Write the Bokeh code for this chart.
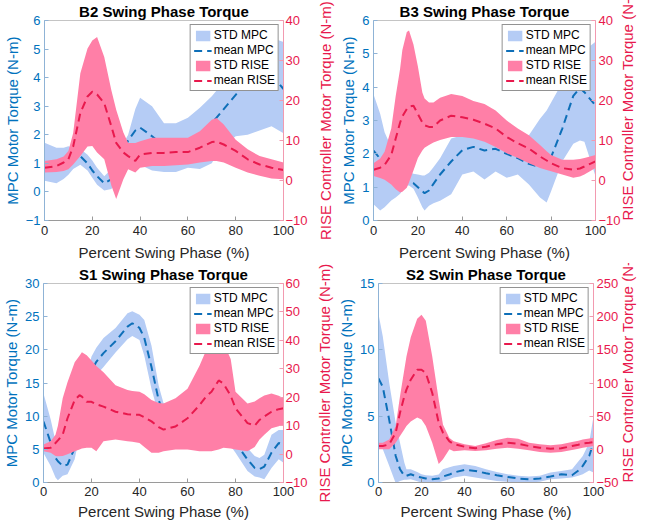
import math
from bokeh.plotting import figure
from bokeh.models import Range1d, LinearAxis, Legend, LegendItem, FixedTicker, Title
from bokeh.layouts import column, row
from bokeh.embed import file_html
from bokeh.resources import INLINE

# ---------------- data ----------------
b2_x = [0, 5, 8, 10, 12, 15, 18, 20, 22, 25, 28, 30, 33, 35, 38, 40, 45, 50, 55, 60, 65, 70, 72, 75, 80, 85, 90, 95, 100]
b2_mpc_mean = [1.05, 1.0, 1.1, 1.2, 1.3, 1.25, 1.0, 0.75, 0.55, 0.3, 0.45, 0.8, 1.45, 1.8, 2.15, 2.25, 1.95, 1.6, 1.55, 1.7, 1.95, 2.4, 2.6, 2.9, 3.4, 3.8, 4.2, 4.1, 3.6]
b2_mpc_lo = [0.39, 0.3, 0.45, 0.6, 0.8, 0.95, 0.75, 0.5, 0.25, 0.05, 0.1, 0.4, 1.2, 1.5, 1.2, 0.95, 0.75, 0.7, 0.7, 0.85, 0.8, 1.0, 1.3, 1.6, 1.95, 2.0, 2.15, 2.3, 2.05]
b2_mpc_hi = [1.72, 1.55, 1.55, 1.6, 1.55, 1.5, 1.3, 1.1, 0.85, 0.55, 0.8, 1.2, 1.7, 2.0, 2.9, 3.3, 3.0, 2.4, 2.4, 2.6, 2.95, 3.35, 3.55, 3.8, 4.45, 4.95, 5.3, 5.4, 5.25]
b2_rise_mean = [3.2, 3.6, 4.5, 5.3, 8.5, 16.9, 21.0, 22.2, 21.5, 19.3, 13.5, 9.4, 7.0, 6.1, 4.9, 6.5, 6.9, 6.9, 7.1, 7.1, 8.2, 9.6, 9.7, 9.0, 7.4, 5.3, 4.0, 3.2, 2.6]
b2_rise_lo = [2.0, 2.1, 2.4, 2.8, 4.0, 6.1, 8.5, 8.6, 7.0, 5.3, -1.3, -4.6, 0.3, 2.8, 2.0, 3.2, 3.6, 3.6, 3.8, 4.0, 4.5, 4.9, 4.9, 4.5, 3.2, 2.0, 1.2, 0.5, 0.3]
b2_rise_hi = [4.9, 5.3, 6.0, 7.4, 11.9, 26.8, 33.0, 35.0, 35.9, 30.9, 22.5, 17.7, 12.0, 9.4, 9.4, 9.8, 10.7, 10.7, 10.7, 10.7, 12.3, 15.2, 15.6, 14.0, 10.2, 7.8, 6.1, 5.3, 4.5]

b3_x = [0, 3, 5, 8, 10, 12, 13, 15, 16, 18, 20, 22, 23, 25, 27, 30, 35, 40, 45, 50, 55, 60, 65, 70, 75, 78, 80, 85, 90, 93, 95, 100]
b3_mpc_mean = [2.1, 1.85, 1.7, 1.5, 1.4, 1.35, 1.3, 1.22, 1.18, 1.12, 1.0, 0.88, 0.82, 0.9, 1.1, 1.38, 1.77, 2.11, 2.21, 2.1, 2.15, 2.0, 1.87, 1.7, 1.6, 1.7, 1.9, 2.75, 3.74, 3.98, 3.85, 3.45]
b3_mpc_hi = [3.79, 3.2, 2.65, 2.2, 1.9, 1.7, 1.65, 1.5, 1.45, 1.4, 1.38, 1.35, 1.35, 1.43, 1.6, 1.87, 2.46, 2.56, 2.6, 2.56, 2.41, 2.36, 2.41, 2.56, 3.05, 3.3, 3.54, 4.13, 4.62, 4.9, 5.1, 5.36]
b3_mpc_lo = [0.49, 0.3, 0.4, 0.6, 0.69, 0.8, 0.9, 1.05, 1.05, 0.95, 0.69, 0.4, 0.3, 0.44, 0.52, 0.59, 0.79, 1.38, 1.47, 1.23, 1.47, 1.28, 1.38, 1.08, 0.69, 0.54, 0.88, 1.77, 2.3, 2.4, 2.36, 1.33]
b3_rise_mean = [2.7, 3.2, 3.9, 6.4, 10.5, 14.5, 16.0, 17.9, 18.5, 18.7, 16.6, 14.5, 13.8, 13.4, 13.4, 15.0, 16.2, 15.8, 15.2, 14.2, 13.0, 10.9, 9.3, 8.0, 6.0, 5.0, 4.3, 3.1, 2.7, 3.0, 3.5, 4.8]
b3_rise_hi = [4.3, 5.5, 7.2, 13.0, 21.1, 28.0, 32.6, 37.1, 37.5, 34.0, 28.5, 22.0, 20.5, 19.5, 19.5, 20.7, 21.6, 21.1, 19.9, 19.1, 17.5, 15.0, 13.0, 11.3, 8.9, 7.3, 6.4, 5.2, 5.2, 5.4, 5.6, 6.4]
b3_rise_lo = [1.1, 0.6, 0.2, -1.0, -2.2, -3.0, -2.8, -1.8, -0.5, 2.5, 5.6, 7.5, 8.2, 8.9, 9.5, 10.1, 10.9, 10.9, 10.5, 9.7, 8.4, 6.8, 5.6, 4.3, 3.1, 2.6, 2.3, 1.5, 0.7, 1.0, 1.5, 3.1]

s1_x = [0, 3, 5, 6, 8, 10, 13, 15, 16, 18, 20, 22, 25, 30, 35, 37, 40, 42, 45, 48, 50, 55, 60, 65, 68, 70, 73, 75, 78, 80, 85, 88, 90, 92, 95, 98, 100]
s1_mpc_mean = [9.2, 6.0, 3.7, 3.2, 2.5, 2.7, 5.2, 9.0, 10.5, 14.0, 16.8, 18.2, 19.5, 21.3, 23.5, 24.0, 23.3, 21.8, 17.4, 12.4, 10.5, 9.7, 9.3, 9.0, 8.8, 8.6, 8.3, 7.8, 7.0, 6.0, 3.47, 2.2, 2.0, 2.4, 4.5, 5.95, 5.7]
s1_mpc_hi = [13.4, 9.5, 6.2, 5.7, 4.2, 4.7, 7.2, 11.0, 12.5, 16.0, 19.0, 20.3, 21.8, 23.3, 25.5, 25.8, 25.3, 24.5, 20.6, 14.6, 12.0, 11.3, 10.8, 10.5, 10.3, 10.1, 9.8, 9.3, 8.5, 7.6, 5.2, 4.0, 3.7, 4.2, 7.2, 7.9, 7.9]
s1_mpc_lo = [4.46, 2.5, 0.74, 0.35, 1.0, 1.24, 3.5, 7.0, 8.5, 12.0, 14.8, 16.2, 17.4, 19.6, 21.6, 22.1, 21.5, 19.1, 14.1, 10.2, 9.0, 8.2, 7.8, 7.5, 7.3, 7.1, 6.8, 6.3, 5.5, 4.5, 1.74, 0.9, 0.74, 0.5, 2.2, 3.5, 2.97]
s1_rise_mean = [2.0, 2.2, 3.9, 4.8, 6.8, 12.6, 19.0, 20.7, 20.2, 18.4, 18.4, 17.5, 16.7, 14.9, 14.0, 13.9, 13.8, 13.0, 11.5, 9.5, 8.6, 9.7, 12.6, 17.2, 20.5, 21.9, 25.9, 24.8, 20.5, 16.1, 10.9, 10.0, 12.0, 13.2, 14.9, 15.8, 16.1]
s1_rise_hi = [3.4, 4.5, 6.8, 10.0, 19.6, 25.3, 32.3, 34.6, 35.8, 34.8, 32.9, 31.0, 28.8, 24.2, 22.5, 22.2, 21.9, 21.0, 19.0, 18.0, 17.8, 19.6, 23.0, 31.1, 37.0, 40.4, 41.0, 39.2, 33.4, 21.9, 17.8, 18.5, 19.6, 20.6, 21.3, 20.5, 19.6]
s1_rise_lo = [1.0, 0.5, -0.7, -0.8, -0.7, -0.1, 1.0, 1.6, 2.0, 2.2, 2.2, 1.0, 4.5, 5.1, 4.5, 4.3, 3.9, 2.5, 0.5, 0.5, 1.0, 1.6, 1.6, 1.0, 1.0, 1.0, 1.6, 2.2, 2.0, 1.6, 1.0, 2.5, 5.1, 6.8, 9.1, 9.8, 10.3]

s2_x = [0, 2, 5, 8, 10, 12, 13, 15, 18, 20, 22, 25, 28, 30, 33, 35, 40, 45, 50, 55, 60, 65, 70, 75, 80, 85, 90, 93, 95, 98, 100]
s2_mpc_mean = [7.85, 7.2, 4.7, 2.0, 1.0, 0.5, 0.5, 0.62, 0.45, 0.37, 0.3, 0.25, 0.3, 0.45, 0.6, 0.75, 0.95, 0.87, 0.7, 0.55, 0.42, 0.3, 0.25, 0.3, 0.45, 0.62, 0.55, 0.9, 1.25, 2.0, 3.0]
s2_mpc_hi = [12.7, 11.0, 7.5, 4.5, 3.0, 1.5, 1.0, 1.0, 0.8, 0.62, 0.55, 0.5, 0.6, 1.0, 1.15, 1.25, 1.37, 1.25, 1.0, 0.8, 0.62, 0.5, 0.45, 0.5, 0.75, 0.87, 1.0, 1.6, 2.0, 3.0, 5.0]
s2_mpc_lo = [2.87, 2.5, 1.25, -0.05, 0.12, 0.2, 0.2, 0.25, 0.1, 0.0, -0.05, -0.07, 0.0, 0.12, 0.25, 0.37, 0.5, 0.37, 0.25, 0.12, 0.05, 0.0, 0.0, 0.05, 0.25, 0.3, 0.37, 0.5, 0.62, 0.9, 0.75]
s2_rise_mean = [5, 5, 7.5, 25, 55, 80, 90, 105, 120, 120, 115, 85, 40, 25, 12, 8, 4, 1.5, 4, 7.5, 10, 8.5, 5, 2.5, 1, 1.5, 5, 7, 9, 10, 11]
s2_rise_hi = [10, 10, 15, 35, 80, 120, 140, 169, 197, 203, 194, 140, 75, 37, 17, 12, 7.5, 5, 9, 14, 17.4, 16, 10, 7.5, 6, 7.5, 11, 13, 15, 16.5, 17.4]
s2_rise_lo = [0, 0, 0, 10, 20, 30, 35, 42, 48, 45, 35, 10, -22, -15, 0, -3, -1.5, -2.5, -1.5, 1, 2.5, 1, -1.5, -4, -5, -4, -1, 1, 2.5, 4, 5]

x_ticks = [0, 20, 40, 60, 80, 100]
b2_left_ticks = [-1, 0, 1, 2, 3, 4, 5, 6]
b3_left_ticks = [0, 1, 2, 3, 4, 5, 6]
s1_left_ticks = [0, 5, 10, 15, 20, 25, 30]
s2_left_ticks = [0, 5, 10, 15]
b_right_ticks = [-10, 0, 10, 20, 30, 40]
s1_right_ticks = [-10, 0, 10, 20, 30, 40, 50, 60]
s2_right_ticks = [-50, 0, 50, 100, 150, 200, 250]

legend_labels = ["STD MPC", "mean MPC", "STD RISE", "mean RISE"]
x_label = "Percent Swing Phase (%)"
left_label = "MPC Motor Torque (N-m)"
right_label = "RISE Controller Motor Torque (N-m)"

# ---------------- styling ----------------
FONT = "Liberation Sans"
BLUE_AX = "#0072BD"
RED_AX = "#E8194D"
MPC_BAND = "#B5CCF5"
RISE_BAND = "#FF7FA7"
MPC_LINE = "#0E6FB8"
RISE_LINE = "#E8194D"
DARK = "#262626"


def style_axis(ax, color, line_color, ticks):
    ax.ticker = FixedTicker(ticks=ticks)
    ax.axis_line_color = line_color
    ax.major_tick_line_color = line_color
    ax.major_tick_in = 4
    ax.major_tick_out = 0
    ax.minor_tick_line_color = None
    ax.major_label_text_color = color
    ax.major_label_text_font = FONT
    ax.major_label_text_font_size = "13px"
    ax.axis_label_text_color = color
    ax.axis_label_text_font = FONT
    ax.axis_label_text_font_size = "15px"
    ax.axis_label_text_font_style = "normal"
    ax.major_label_standoff = 4
    ax.axis_label_standoff = 2


def rotated_title(text, standoff):
    return Title(text=text, align="center", text_font=FONT, text_font_style="normal",
                 text_font_size="15px", text_color=RED_AX, standoff=standoff)


def panel(title, x, m_mean, m_lo, m_hi, r_mean, r_lo, r_hi, lrange, lticks, rrange, rticks,
          width, height, borders, xstand, left_title_standoff=None, right_label_standoff=None):
    p = figure(width=width, height=height, x_range=Range1d(0, 100), y_range=Range1d(*lrange),
               output_backend="svg", toolbar_location=None, title=None,
               min_border_left=borders[0], min_border_right=borders[1],
               min_border_top=borders[2], min_border_bottom=borders[3])
    p.extra_y_ranges = {"r": Range1d(*rrange)}
    p.xgrid.visible = False
    p.ygrid.visible = False
    p.outline_line_color = "#c4c4c4"
    p.background_fill_color = "white"
    p.border_fill_color = "white"

    p.add_layout(Title(text=title, align="center", text_font=FONT, text_font_style="bold",
                       text_font_size="15px", text_color="#000000", standoff=1), "above")

    style_axis(p.xaxis[0], DARK, "#9a9a9a", x_ticks)
    p.xaxis[0].major_label_standoff = xstand[0]
    p.xaxis[0].axis_label_standoff = xstand[1]
    p.xaxis[0].axis_label = x_label
    style_axis(p.yaxis[0], BLUE_AX, "#8fb3d6", lticks)
    p.yaxis[0].axis_label = left_label

    # the neighbouring panel's right-hand title sits just left of this panel's own axis
    if left_title_standoff is not None:
        p.add_layout(rotated_title(right_label, left_title_standoff), "left")

    rax = LinearAxis(y_range_name="r")
    style_axis(rax, RED_AX, "#f29ab0", rticks)
    if right_label_standoff is not None:
        rax.axis_label = right_label
        rax.axis_label_orientation = math.pi / 2
        rax.major_label_standoff = 3
        rax.axis_label_standoff = right_label_standoff
        for v in ("start", "left"):
            try:
                rax.axis_label_align = v
                break
            except Exception:
                pass
    else:
        rax.major_label_standoff = 2
    p.add_layout(rax, "right")

    r1 = p.varea(x=x, y1=m_lo, y2=m_hi, fill_color=MPC_BAND)
    r2 = p.line(x=x, y=m_mean, line_color=MPC_LINE, line_width=2, line_dash="8 5")
    r3 = p.varea(x=x, y1=r_lo, y2=r_hi, fill_color=RISE_BAND, y_range_name="r")
    r4 = p.line(x=x, y=r_mean, line_color=RISE_LINE, line_width=2, line_dash="8 5", y_range_name="r")

    legend = Legend(items=[LegendItem(label=legend_labels[0], renderers=[r1]),
                           LegendItem(label=legend_labels[1], renderers=[r2]),
                           LegendItem(label=legend_labels[2], renderers=[r3]),
                           LegendItem(label=legend_labels[3], renderers=[r4])],
                    location="top_right")
    legend.label_text_font = FONT
    legend.label_text_font_size = "12px"
    legend.label_text_color = "#000000"
    legend.label_height = 13
    legend.glyph_height = 13
    legend.glyph_width = 18
    legend.label_standoff = 2
    legend.spacing = 1
    legend.padding = 3
    legend.margin = 4
    legend.border_line_color = DARK
    legend.border_line_width = 1
    legend.background_fill_alpha = 1.0
    p.add_layout(legend)
    return p


p1 = panel("B2 Swing Phase Torque", b2_x, b2_mpc_mean, b2_mpc_lo, b2_mpc_hi,
           b2_rise_mean, b2_rise_lo, b2_rise_hi, (-1, 6), b2_left_ticks, (-10, 40), b_right_ticks,
           310, 263, (33, 20, 0, 0), (5, 6))
p2 = panel("B3 Swing Phase Torque", b3_x, b3_mpc_mean, b3_mpc_lo, b3_mpc_hi,
           b3_rise_mean, b3_rise_lo, b3_rise_hi, (0, 6), b3_left_ticks, (-10, 40), b_right_ticks,
           337, 263, (0, 0, 0, 0), (5, 6), left_title_standoff=8, right_label_standoff=4)
p3 = panel("S1 Swing Phase Torque", s1_x, s1_mpc_mean, s1_mpc_lo, s1_mpc_hi,
           s1_rise_mean, s1_rise_lo, s1_rise_hi, (0, 30), s1_left_ticks, (-10, 60), s1_right_ticks,
           310, 259, (33, 20, 17, 0), (4, 4))
p4 = panel("S2 Swin Phase Torque", s2_x, s2_mpc_mean, s2_mpc_lo, s2_mpc_hi,
           s2_rise_mean, s2_rise_lo, s2_rise_hi, (0, 15), s2_left_ticks, (-50, 250), s2_right_ticks,
           337, 259, (0, 0, 17, 0), (4, 4), left_title_standoff=6, right_label_standoff=6)

layout = column(row(p1, p2), row(p3, p4))
open("out.html", "w").write(file_html(layout, INLINE))
